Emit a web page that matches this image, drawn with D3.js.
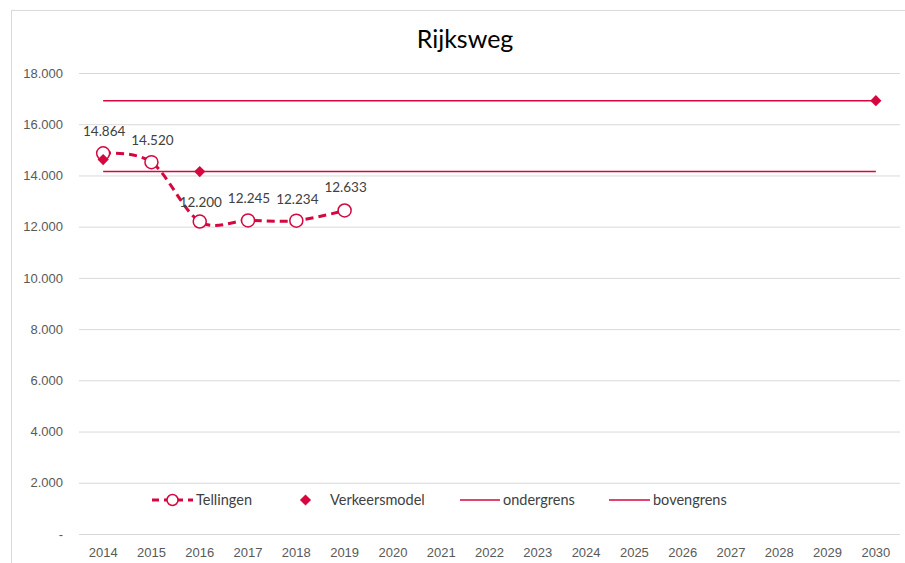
<!DOCTYPE html>
<html>
<head>
<meta charset="utf-8">
<script src="https://cdn.jsdelivr.net/npm/d3@7"></script>
<style>
  body { margin: 0; background: #fff; }
  svg { font-family: Lato, "Open Sans", sans-serif; }
  .tick text { fill: #595959; font-size: 13px; }
  .label { fill: #404040; font-size: 13.5px; }
  .legend text { fill: #404040; font-size: 14.5px; }
</style>
</head>
<body>
<svg width="905" height="563"></svg>
<script>
const years = d3.range(2014, 2031).map(String);
const yTicks = [0, 2000, 4000, 6000, 8000, 10000, 12000, 14000, 16000, 18000];
const tellingenYears = ["2014", "2015", "2016", "2017", "2018", "2019"];
const tellingen = [14864, 14520, 12200, 12245, 12234, 12633];
const modelYears = ["2014", "2016", "2030"];
const verkeersmodel = [14620, 14150, 16920];
const ondergrens = 14150;
const bovengrens = 16920;

const red = "#d6063f";
const svg = d3.select("svg");
const width = +svg.attr("width");
const height = +svg.attr("height");
const margin = { left: 79, right: 5, top: 73, bottom: 29 };
const inner = {
  width: width - margin.left - margin.right,
  height: height - margin.top - margin.bottom,
};

// outer border
svg.append("rect")
  .attr("x", 11.5).attr("y", 10.5)
  .attr("width", width).attr("height", height)
  .attr("fill", "none").attr("stroke", "#d9d9d9");

svg.append("text")
  .text("Rijksweg")
  .attr("x", 465).attr("y", 48)
  .attr("text-anchor", "middle")
  .attr("font-size", 25)
  .attr("fill", "#000");

const xScale = d3.scaleBand().domain(years).range([0, inner.width]);
const xPos = (y) => xScale(y) + xScale.bandwidth() / 2;
const yScale = d3.scaleLinear().domain([0, 18000]).range([inner.height, 0]);

const g = svg.append("g")
  .attr("transform", `translate(${margin.left},${margin.top})`);

const fmt = (v) => v === 0 ? "-" : d3.format(",")(v).replace(",", ".");

const yAxis = d3.axisLeft(yScale)
  .tickValues(yTicks)
  .tickSize(-inner.width)
  .tickFormat(fmt);
g.append("g").call(yAxis)
  .call((a) => a.select(".domain").remove())
  .call((a) => a.selectAll(".tick line").attr("stroke", "#d9d9d9"))
  .call((a) => a.selectAll(".tick text").attr("x", -16));

const xAxis = d3.axisBottom(xScale).tickSize(0).tickPadding(14);
g.append("g")
  .attr("transform", `translate(0,${inner.height})`)
  .call(xAxis)
  .call((a) => a.select(".domain").remove());

// limit lines
[ondergrens, bovengrens].forEach((v) => {
  g.append("line")
    .attr("x1", xPos("2014")).attr("x2", xPos("2030"))
    .attr("y1", yScale(v)).attr("y2", yScale(v))
    .attr("stroke", red).attr("stroke-width", 1.5);
});

const tData = tellingenYears.map((y, i) => ({ year: y, value: tellingen[i] }));
const line = d3.line()
  .x((d) => xPos(d.year))
  .y((d) => yScale(d.value))
  .curve(d3.curveCatmullRom.alpha(0));
g.append("path")
  .datum(tData)
  .attr("d", line)
  .attr("fill", "none")
  .attr("stroke", red)
  .attr("stroke-width", 3)
  .attr("stroke-dasharray", "8,5");

g.selectAll(".telpoint")
  .data(tData)
  .enter()
  .append("circle")
  .attr("class", "telpoint")
  .attr("cx", (d) => xPos(d.year))
  .attr("cy", (d) => yScale(d.value))
  .attr("r", 6.5)
  .attr("fill", "#fff")
  .attr("stroke", red)
  .attr("stroke-width", 1.5);

const diamond = d3.symbol().type(d3.symbolDiamond2).size(80);
g.selectAll(".model")
  .data(modelYears.map((y, i) => ({ year: y, value: verkeersmodel[i] })))
  .enter()
  .append("path")
  .attr("class", "model")
  .attr("d", diamond)
  .attr("transform", (d) => `translate(${xPos(d.year)},${yScale(d.value)})`)
  .attr("fill", red);

const labelDy = [-17, -17, -15, -17, -17, -18];
g.selectAll(".label")
  .data(tData)
  .enter()
  .append("text")
  .attr("class", "label")
  .attr("x", (d) => xPos(d.year) + 1)
  .attr("y", (d, i) => yScale(d.value) + labelDy[i])
  .attr("text-anchor", "middle")
  .text((d) => fmt(d.value));

// legend
const legend = svg.append("g").attr("class", "legend")
  .attr("transform", "translate(0,500)");
legend.append("line").attr("x1", 152).attr("x2", 193)
  .attr("stroke", red).attr("stroke-width", 3).attr("stroke-dasharray", "7,5");
legend.append("circle").attr("cx", 172.5).attr("r", 5.5)
  .attr("fill", "#fff").attr("stroke", red).attr("stroke-width", 1.5);
legend.append("text").attr("x", 196).attr("y", 5).text("Tellingen");
legend.append("path").attr("d", diamond)
  .attr("transform", "translate(305.5,0)").attr("fill", red);
legend.append("text").attr("x", 330).attr("y", 5).text("Verkeersmodel");
legend.append("line").attr("x1", 460).attr("x2", 500)
  .attr("stroke", red).attr("stroke-width", 1.5);
legend.append("text").attr("x", 503).attr("y", 5).text("ondergrens");
legend.append("line").attr("x1", 609).attr("x2", 650)
  .attr("stroke", red).attr("stroke-width", 1.5);
legend.append("text").attr("x", 653).attr("y", 5).text("bovengrens");
</script>
</body>
</html>
